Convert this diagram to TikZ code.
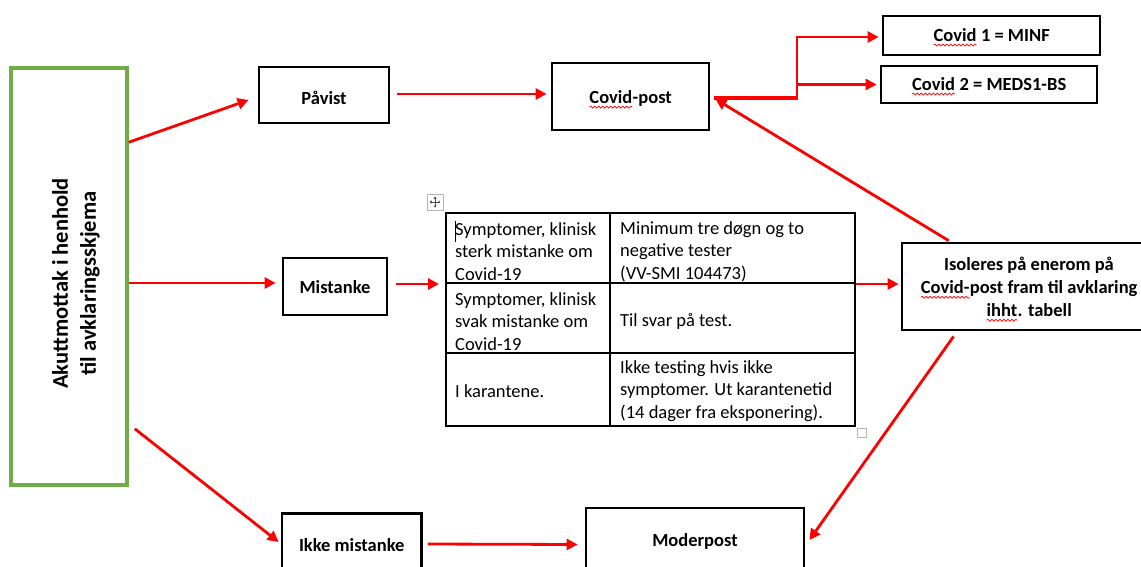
\documentclass[tikz,border=0pt]{standalone}
\usepackage{fontspec}
\setmainfont{Carlito}
\usetikzlibrary{arrows.meta,calc,decorations.pathmorphing}
\definecolor{boxgreen}{HTML}{70AD47}
\definecolor{arrred}{HTML}{FF0000}
\definecolor{handlegray}{HTML}{B4B4B4}
% word with a red wavy underline
\newcommand\squig[1]{\tikz[baseline=(w.base)]{\node[shape=rectangle,draw=none,fill=none,inner sep=0pt,outer sep=0pt,minimum width=0pt,minimum height=0pt,anchor=base](w){#1};\draw[arrred,line width=0.7pt,decorate,decoration={snake,amplitude=1pt,segment length=4pt}]([yshift=-3.5pt]w.base west)--([yshift=-3.5pt]w.base east);}}
\begin{document}
\begin{tikzpicture}[x=1pt,y=-1pt,
  box/.style={draw=black,line width=2.8pt,fill=white,inner sep=0pt,align=center,
    font=\bfseries\fontsize{18.5}{23}\selectfont},
  arr/.style={draw=arrred,line width=2.8pt,-{Triangle[length=11pt,width=11pt]}},
  cell/.style={anchor=west,inner sep=0pt,align=left,font=\fontsize{18.5}{22.5}\selectfont},
  handle/.style={draw=handlegray,line width=0.8pt,inner sep=0pt,fill=white},
  lbl/.style={inner sep=0pt,align=center,font=\bfseries\fontsize{18.5}{23}\selectfont},
]
\useasboundingbox (0,0) rectangle (1141,567);
\clip (0,0) rectangle (1141,567);

% start box
\node[draw=boxgreen,line width=3.5pt,minimum width=116pt,minimum height=417pt,inner sep=0pt] (akutt) at (69,276.5) {};
\node[rotate=90,align=center,inner sep=0pt,font=\bfseries\fontsize{22.5}{28}\selectfont] (akuttlabel) at (76,283.5) {Akuttmottak i henhold\\til avklaringsskjema};

% process boxes (frames), labels placed slightly below centre
\node[box,minimum width=130pt,minimum height=56pt] (pavist) at (324,95) {};
\node[lbl] (pavistlabel) at ($(pavist)+(0,3)$) {Påvist};
\node[box,minimum width=157pt,minimum height=67pt] (covidpost) at (630.5,96.5) {};
\node[lbl] (covidpostlabel) at ($(covidpost)+(0,3)$) {\squig{Covid}-post};
\node[box,minimum width=217pt,minimum height=39pt] (covid1) at (991.5,35.5) {};
\node[lbl] (covid1label) at ($(covid1)+(0,2)$) {\squig{Covid} 1 = MINF};
\node[box,minimum width=216pt,minimum height=37pt] (covid2) at (989,84.5) {};
\node[lbl] (covid2label) at ($(covid2)+(0,2)$) {\squig{Covid} 2 = MEDS1-BS};
\node[box,minimum width=104pt,minimum height=57pt] (mistanke) at (335,286.5) {};
\node[lbl] (mistankelabel) at ($(mistanke)+(0,1)$) {Mistanke};
\node[box,minimum width=254pt,minimum height=87pt] (isoleres) at (1029,286.5) {};
\node[lbl] (isolereslabel) at ($(isoleres)+(0,3)$) {Isoleres på enerom på\\\squig{Covid-}post fram til avklaring\\\squig{ihht}. tabell};
\node[box,minimum width=139.5pt,minimum height=63.5pt] (ikke) at (351.75,545) {};
\node[lbl] (ikkelabel) at (ikke) {Ikke mistanke};
\node[box,minimum width=218pt,minimum height=66pt] (moder) at (695,541) {};
\node[lbl] (moderlabel) at (moder) {Moderpost};

% table
\node[draw=black,line width=2pt,minimum width=409pt,minimum height=213pt,inner sep=0pt] (tab) at (650.5,319.5) {};
\draw[line width=2pt] ($(tab.north west)+(0,71)$) -- ($(tab.north east)+(0,71)$);
\draw[line width=2pt] ($(tab.north west)+(0,141)$) -- ($(tab.north east)+(0,141)$);
\draw[line width=2pt] ($(tab.north west)+(165,0)$) -- ($(tab.south west)+(165,0)$);
\node[cell] (r1l) at (455,251.5) {Symptomer, klinisk\\sterk mistanke om\\Covid-19};
\node[cell] (r1r) at (620,251.5) {Minimum tre døgn og to\\negative tester\\(VV-SMI 104473)};
\node[cell] (r2l) at (455,321.5) {Symptomer, klinisk\\svak mistanke om\\Covid-19};
\node[cell] (r2r) at (620,321.5) {Til svar på test.};
\node[cell] (r3l) at (455,391) {I karantene.};
\node[cell] (r3r) at (620,391) {Ikke testing hvis ikke\\symptomer. Ut karantenetid\\(14 dager fra eksponering).};
\draw[line width=0.7pt] ($(r1l.north west)+(0,-1)$) -- ++(0,21);

% table handles
\node[handle,minimum size=16pt] (mover) at (435,202) {};
\draw[black!70,line width=0.6pt,{Triangle[length=2pt,width=3pt]}-{Triangle[length=2pt,width=3pt]}] ($(mover)+(-5.5,0)$) -- ($(mover)+(5.5,0)$);
\draw[black!70,line width=0.6pt,{Triangle[length=2pt,width=3pt]}-{Triangle[length=2pt,width=3pt]}] ($(mover)+(0,-5.5)$) -- ($(mover)+(0,5.5)$);
\node[handle,minimum size=9pt] (sizer) at (861.5,432.5) {};

% connectors
\draw[arr] ($(akutt.north east)+(0,76)$) -- ($(pavist.west)+(-9,5)$);
\draw[arr] ($(pavist.east)+(7,-1)$) -- ($(covidpost.west)+(-4,-2.5)$);
\draw[arr] ($(akutt.east)+(0,6.5)$) -- ($(mistanke.west)+(-6,-3.5)$);
\draw[arr] ($(mistanke.east)+(8,-2.5)$) -- ($(tab.west)+(-6,-35.5)$);
\draw[arr] ($(tab.east)+(0,-35.5)$) -- ($(isoleres.west)+(-2,-2.5)$);
\draw[arr] ($(akutt.south east)+(6,-58)$) -- ($(ikke.west)+(-2,-3)$);
\draw[arr] ($(ikke.east)+(5,-1)$) -- ($(moder.west)+(-7,3.5)$);
\draw[arr] ($(isoleres.north west)+(48,-1)$) -- ($(covidpost.east)+(5,2.5)$);
\draw[arr] ($(isoleres.south west)+(53,5)$) -- ($(moder.east)+(4,-1)$);

% split towards the two Covid wards
\coordinate (split) at (797,98);
\draw[arrred,line width=4.5pt] ($(covidpost.east)+(4,1.5)$) -- ([xshift=1.3pt]split);
\draw[arr] (split) |- ($(covid1.west)+(-3,1.5)$);
\draw[arr] (split |- covid2.west) -- ($(covid2.west)+(-3,0)$);
\end{tikzpicture}
\end{document}
